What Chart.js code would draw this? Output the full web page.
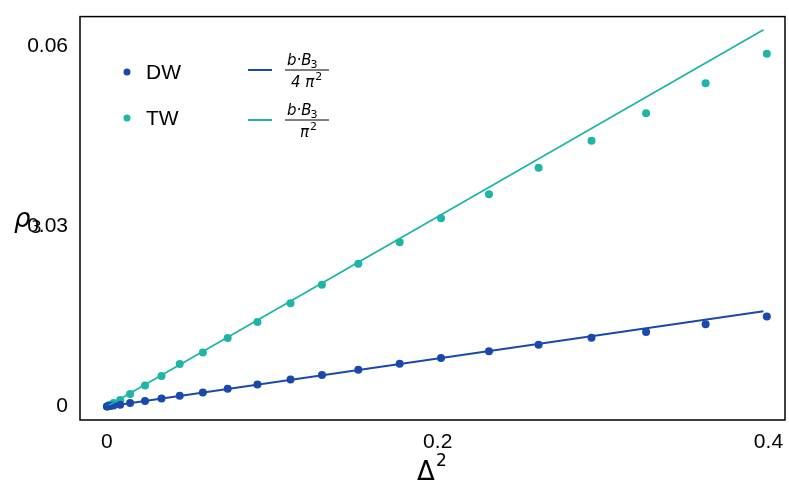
<!DOCTYPE html>
<html>
<head>
<meta charset="utf-8">
<script src="https://cdn.jsdelivr.net/npm/chart.js@4"></script>
<style>
  body { margin: 0; background: #fff; }
  #wrap { width: 789px; height: 498px; }
</style>
</head>
<body>
<div id="wrap"><canvas id="c"></canvas></div>
<script>
const dwX = [0, 0.001, 0.002, 0.004, 0.008, 0.014, 0.023, 0.033, 0.044, 0.058, 0.073, 0.091, 0.111, 0.130, 0.152, 0.177, 0.202, 0.231, 0.261, 0.293, 0.326, 0.362, 0.399];
const dwY = [0, 0.00004, 0.00008, 0.00016, 0.0003, 0.00057, 0.00093, 0.00134, 0.00178, 0.00235, 0.00296, 0.00368, 0.00449, 0.00526, 0.00613, 0.00712, 0.00810, 0.00920, 0.01030, 0.01145, 0.01240, 0.01370, 0.01500];
const twX = [0, 0.001, 0.002, 0.004, 0.008, 0.014, 0.023, 0.033, 0.044, 0.058, 0.073, 0.091, 0.111, 0.130, 0.152, 0.177, 0.202, 0.231, 0.261, 0.293, 0.326, 0.362, 0.399];
const twY = [0, 0.00016, 0.0003, 0.0006, 0.0011, 0.0021, 0.0035, 0.0051, 0.0071, 0.0090, 0.0114, 0.0141, 0.0172, 0.0203, 0.0238, 0.0274, 0.0314, 0.0354, 0.0398, 0.0443, 0.0489, 0.0539, 0.0588];
const fitX = [0, 0.397];
const dwSlope = 0.0400;
const twSlope = 0.1582;
const xTicks = [0, 0.2, 0.4];
const yTicks = [0, 0.03, 0.06];

const dwColor = "#1a48ad";
const twColor = "#1fb5a6";
const pts = (xs, ys) => xs.map((x, i) => ({ x: x, y: ys[i] }));

const extras = {
  id: "extras",
  afterDraw(chart) {
    const ctx = chart.ctx, a = chart.chartArea;
    ctx.save();
    ctx.strokeStyle = "#000"; ctx.lineWidth = 1.5;
    ctx.strokeRect(a.left, a.top, a.right - a.left, a.bottom - a.top);
    ctx.fillStyle = "#000";
    // axis titles
    ctx.textBaseline = "alphabetic";
    ctx.font = "italic 26px 'DejaVu Sans'";
    ctx.fillText("ρ", 14, 227);
    ctx.font = "17px 'DejaVu Sans'";
    ctx.fillText("3", 31, 233);
    ctx.font = "26px 'DejaVu Sans'";
    ctx.fillText("Δ", 417, 480);
    ctx.font = "17px 'DejaVu Sans'";
    ctx.fillText("2", 436, 466);
    // legend markers
    [[72, dwColor, "DW"], [118, twColor, "TW"]].forEach(([y, c, t]) => {
      ctx.fillStyle = c;
      ctx.beginPath(); ctx.arc(127, y, 3.5, 0, Math.PI * 2); ctx.fill();
      ctx.fillStyle = "#000";
      ctx.font = "21px 'Liberation Sans'";
      ctx.textBaseline = "middle";
      ctx.fillText(t, 146, y + 1);
    });
    // legend lines with fractions
    [[70, dwColor, "4 π"], [120, twColor, "π"]].forEach(([y, c, den]) => {
      ctx.strokeStyle = c; ctx.lineWidth = 2;
      ctx.beginPath(); ctx.moveTo(248, y); ctx.lineTo(272, y); ctx.stroke();
      ctx.fillStyle = "#000";
      ctx.textBaseline = "alphabetic";
      ctx.font = "italic 15px 'DejaVu Sans'";
      const nw = ctx.measureText("b·B").width;
      ctx.fillText("b·B", 287, y - 5);
      ctx.font = "11px 'DejaVu Sans'";
      ctx.fillText("3", 287 + nw - 1, y - 2);
      ctx.lineWidth = 1; ctx.strokeStyle = "#000";
      ctx.beginPath(); ctx.moveTo(285, y); ctx.lineTo(329, y); ctx.stroke();
      ctx.font = "italic 15px 'DejaVu Sans'";
      const w = ctx.measureText(den).width;
      const x0 = den.length > 1 ? 291 : 300;
      ctx.fillText(den, x0, y + 17);
      ctx.font = "11px 'DejaVu Sans'";
      ctx.fillText("2", x0 + w + 1, y + 10);
    });
    ctx.restore();
  }
};

new Chart(document.getElementById("c"), {
  type: "scatter",
  data: {
    datasets: [
      { data: fitX.map(x => ({ x: x, y: dwSlope * x })), showLine: true, borderColor: dwColor, borderWidth: 1.8, pointRadius: 0 },
      { data: fitX.map(x => ({ x: x, y: twSlope * x })), showLine: true, borderColor: twColor, borderWidth: 1.8, pointRadius: 0 },
      { data: pts(dwX, dwY), backgroundColor: dwColor, borderWidth: 0, pointRadius: 4 },
      { data: pts(twX, twY), backgroundColor: twColor, borderWidth: 0, pointRadius: 4 }
    ]
  },
  options: {
    responsive: true, maintainAspectRatio: false, animation: false,
    layout: { padding: { top: -14, right: 4, left: 0, bottom: 0 } },
    plugins: { legend: { display: false }, tooltip: { enabled: false } },
    scales: {
      x: {
        type: "linear", min: -0.0163, max: 0.41,
        afterBuildTicks: s => { s.ticks = xTicks.map(v => ({ value: v })); },
        afterFit: s => { s.height = 78; },
        grid: { display: false, drawTicks: true },
        border: { display: false },
        ticks: { color: "#000", font: { family: "Liberation Sans", size: 21 }, padding: 2, callback: v => String(v) }
      },
      y: {
        min: -0.00225, max: 0.065,
        afterBuildTicks: s => { s.ticks = yTicks.map(v => ({ value: v })); },
        afterFit: s => { s.width = 80; },
        grid: { display: false },
        border: { display: false },
        ticks: { color: "#000", font: { family: "Liberation Sans", size: 21 }, padding: 4, callback: v => String(v) }
      }
    }
  },
  plugins: [extras]
});
</script>
</body>
</html>
